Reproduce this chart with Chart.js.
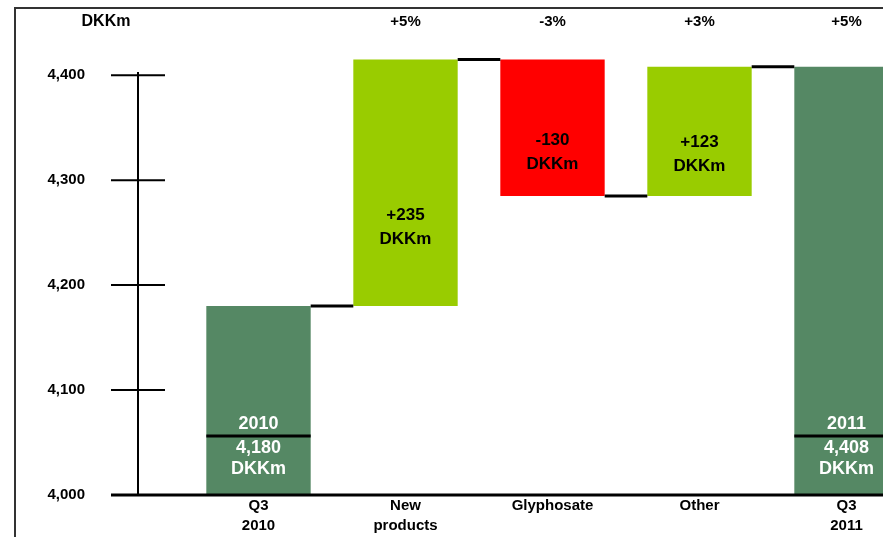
<!DOCTYPE html>
<html>
<head>
<meta charset="utf-8">
<script src="https://cdn.jsdelivr.net/npm/chart.js@4.4.1/dist/chart.umd.min.js"></script>
<style>
  html, body { margin: 0; padding: 0; background: #fff; overflow: hidden; }
  #wrap { position: relative; width: 883px; height: 537px; overflow: hidden; }
  #chart { position: absolute; left: 0; top: 0; }
  #frame { position: absolute; left: 14px; top: 7px; width: 900px; height: 600px;
           border-left: 2px solid #333; border-top: 2px solid #333; pointer-events: none; }
</style>
</head>
<body>
<div id="wrap">
  <canvas id="chart" width="934" height="537"></canvas>
  <div id="frame"></div>
</div>
<script>
const categories = [['Q3', '2010'], ['New', 'products'], 'Glyphosate', 'Other', ['Q3', '2011']];
const axisMin = 4000;
const startValue = 4180;
const changes = [235, -130, 123];
const endValue = 4408;
const yearLabels = ['2010', '2011'];
const shareLabels = ['', '+5%', '-3%', '+3%', '+5%'];
const yTicks = [4000, 4100, 4200, 4300, 4400];

const FONT = '"Liberation Sans", Arial, sans-serif';
const DARK = '#558864', UP = '#99CC00', DOWN = '#FF0000';

// floating bars for the waterfall, and the level after each bar (for connectors)
const ranges = [[axisMin, startValue]];
const levels = [startValue];
let level = startValue;
changes.forEach(c => {
  ranges.push([Math.min(level, level + c), Math.max(level, level + c)]);
  level += c;
  levels.push(level);
});
ranges.push([axisMin, endValue]);
const colors = [DARK].concat(changes.map(c => c < 0 ? DOWN : UP), [DARK]);

function fmt(v) { return v.toLocaleString('en-US'); }

function line(ctx, x1, y1, x2, y2) {
  ctx.beginPath();
  ctx.moveTo(x1, y1);
  ctx.lineTo(x2, y2);
  ctx.stroke();
}

const decor = {
  id: 'decor',
  afterDatasetsDraw(chart) {
    const ctx = chart.ctx;
    const y = chart.scales.y;
    const bars = chart.getDatasetMeta(0).data;
    const base = y.getPixelForValue(axisMin);
    const axisX = 138;
    ctx.save();
    ctx.strokeStyle = '#000';

    // connectors between bars
    ctx.lineWidth = 3;
    levels.forEach((v, i) => {
      const a = bars[i], b = bars[i + 1];
      const py = y.getPixelForValue(v);
      line(ctx, a.x + a.width / 2, py, b.x - b.width / 2, py);
    });

    // vertical axis with crossing ticks
    ctx.lineWidth = 2;
    line(ctx, axisX, y.getPixelForValue(4403), axisX, base);
    y.ticks.forEach(t => {
      if (t.value > axisMin) {
        const py = y.getPixelForValue(t.value);
        line(ctx, 111, py, 165, py);
      }
    });
    ctx.lineWidth = 3;
    line(ctx, 111, base, chart.width, base);

    ctx.textAlign = 'center';
    ctx.textBaseline = 'middle';

    // start / end bar labels
    [0, bars.length - 1].forEach((idx, k) => {
      const b = bars[idx];
      const val = idx === 0 ? startValue : endValue;
      ctx.lineWidth = 3;
      line(ctx, b.x - b.width / 2, base - 59, b.x + b.width / 2, base - 59);
      ctx.fillStyle = '#fff';
      ctx.font = 'bold 18px ' + FONT;
      ctx.fillText(yearLabels[k], b.x, base - 71);
      ctx.fillText(fmt(val), b.x, base - 47);
      ctx.fillText('DKKm', b.x, base - 26);
    });

    // change bar labels
    ctx.fillStyle = '#000';
    ctx.font = 'bold 17px ' + FONT;
    changes.forEach((c, i) => {
      const b = bars[i + 1];
      const top = Math.min(b.y, b.base), bot = Math.max(b.y, b.base);
      const cy = top + 0.68 * (bot - top);
      ctx.fillText((c > 0 ? '+' : '') + c, b.x, cy - 12);
      ctx.fillText('DKKm', b.x, cy + 12);
    });

    // share labels on top
    ctx.font = 'bold 15px ' + FONT;
    shareLabels.forEach((s, i) => {
      if (s) ctx.fillText(s, bars[i].x, 22);
    });
    ctx.font = 'bold 16px ' + FONT;
    ctx.fillText('DKKm', 106, 22);
    ctx.restore();
  }
};

new Chart(document.getElementById('chart'), {
  type: 'bar',
  data: {
    labels: categories,
    datasets: [{
      data: ranges,
      backgroundColor: colors,
      borderWidth: 0,
      barPercentage: 0.71,
      categoryPercentage: 1
    }]
  },
  options: {
    responsive: false,
    animation: false,
    layout: { padding: { top: 7, right: 14, left: 0, bottom: 0 } },
    plugins: { legend: { display: false }, tooltip: { enabled: false } },
    scales: {
      x: {
        grid: { display: false, drawTicks: false },
        border: { display: false },
        ticks: {
          color: '#000',
          font: { family: FONT, size: 15, weight: 'bold', lineHeight: 1.33 },
          padding: 1,
          maxRotation: 0,
          autoSkip: false
        },
        afterFit(scale) { scale.height = 42; }
      },
      y: {
        min: axisMin,
        max: 4465,
        grid: { display: false, drawTicks: false },
        border: { display: false },
        ticks: {
          color: '#000',
          font: { family: FONT, size: 15, weight: 'bold' },
          padding: 100,
          callback: v => fmt(v)
        },
        afterBuildTicks(scale) { scale.ticks = yTicks.map(v => ({ value: v })); },
        afterFit(scale) {
          scale.width = 185;
          scale.paddingTop = 0;
          scale.paddingBottom = 0;
        }
      }
    }
  },
  plugins: [decor]
});
</script>
</body>
</html>
